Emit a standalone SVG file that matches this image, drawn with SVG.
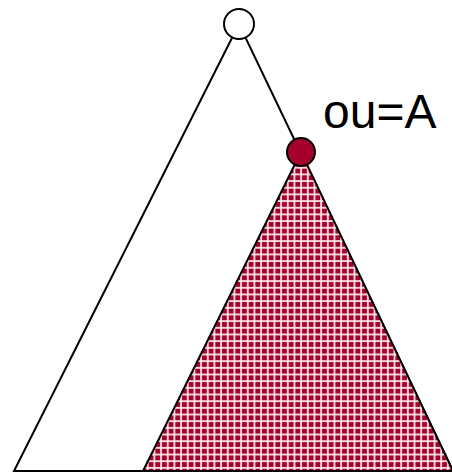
<svg xmlns="http://www.w3.org/2000/svg" width="452" height="473" viewBox="0 0 452 473">
<style>
.edge{fill:none;stroke:#000;stroke-width:2;stroke-linejoin:miter}
.node{stroke:#000;stroke-width:2}
.lbl{font-family:"Liberation Sans",Arial,sans-serif;font-size:48px;fill:#000}
</style>
<defs>
<pattern id="grid" patternUnits="userSpaceOnUse" width="6.67" height="6.67" x="0" y="0">
<rect width="6.67" height="6.67" fill="#a6002c"/>
<path d="M0 1H6.67M1 0V6.67" stroke="#eab0bc" stroke-width="1.9"/>
<path d="M0 1H6.67M1 0V6.67" stroke="#ffffff" stroke-width="0.9"/>
</pattern>
</defs>
<g id="connectors">
<polygon class="edge" points="239,24 14,471 453,471" fill="#fff"/>
<polygon id="subtree" points="301,152 143,471 453,471" fill="url(#grid)" stroke="#000" stroke-width="2"/>
</g>
<g id="root"><circle class="node" cx="239" cy="24" r="15" fill="#fff"/></g>
<g id="nodeA"><circle class="node" cx="301" cy="152" r="14" fill="#a6002c"/></g>
<text class="lbl" x="323" y="128">ou=A</text>
</svg>
